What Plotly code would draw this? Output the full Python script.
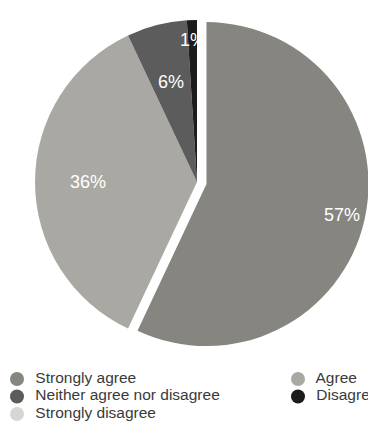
import math
import plotly.graph_objects as go

categories = ["Strongly agree", "Agree", "Neither agree nor disagree", "Disagree", "Strongly disagree"]
values = [57, 36, 6, 1, 0]
colors = ["#868580", "#aaa8a2", "#5c5c5c", "#1c1c1c", "#d8d6d0"]
pulls = [0.06, 0, 0, 0, 0]
label_r = [0.86, 0.67, 0.64, 0.88, 0.8]   # radial position of each % label (fraction of radius)

# the page body has an 8px margin, so the figure is drawn 8px smaller and shifted
OFF = 8
W, H = 376 - OFF, 421 - OFF
# pie geometry in window pixels
cx, cy, R = 197 - OFF, 182 - OFF, 162
maxpull = max(pulls)
half = R * (1 + maxpull)

fig = go.Figure()
fig.add_trace(go.Pie(
    labels=categories,
    values=values,
    sort=False,
    direction="clockwise",
    rotation=0,
    pull=pulls,
    marker=dict(colors=colors, line=dict(width=0)),
    textinfo="none",
    hoverinfo="label+percent",
    showlegend=False,
    domain=dict(x=[(cx - half) / W, (cx + half) / W],
                y=[1 - (cy + half) / H, 1 - (cy - half) / H]),
))

# percentage labels placed along each slice's mid-angle
total = sum(values)
cum = 0
for v, p, lr in zip(values, pulls, label_r):
    mid = (cum + v / 2) / total * 2 * math.pi
    cum += v
    if v == 0:
        continue
    sx, sy = math.sin(mid), -math.cos(mid)
    px = cx + sx * R * (lr + p)
    py = cy + sy * R * (lr + p)
    fig.add_annotation(
        x=px / W, y=1 - py / H, xref="paper", yref="paper",
        text=f"{round(v / total * 100)}%", showarrow=False,
        xanchor="center", yanchor="middle",
        font=dict(family="Liberation Sans, Arial, sans-serif", size=18, color="white"),
    )

# legend drawn as a scatter: two columns, row-wise order
cols = [i % 2 for i in range(len(categories))]
rows = [i // 2 for i in range(len(categories))]
fig.add_trace(go.Scatter(
    x=cols, y=rows,
    mode="markers+text",
    marker=dict(symbol="circle", size=14, color=colors),
    text=["  " + c for c in categories],
    textposition="middle right",
    textfont=dict(family="Liberation Sans, Arial, sans-serif", size=15.5, color="#3a3a3a"),
    hoverinfo="skip",
    showlegend=False,
    cliponaxis=False,
))

# col 0 -> x=17px, col 1 -> x=298px; row 0 -> y=379px, row step 17.5px (window pixels)
x0, dx = 17 - OFF, 281
y0, dy = 379 - OFF, 17.5
fig.update_xaxes(visible=False, range=[(0 - x0) / dx, (W - x0) / dx], domain=[0, 1], fixedrange=True)
fig.update_yaxes(visible=False, range=[(H - y0) / dy, (0 - y0) / dy], domain=[0, 1], fixedrange=True)

fig.update_layout(
    width=W, height=H,
    margin=dict(l=0, r=0, t=0, b=0),
    paper_bgcolor="white",
    plot_bgcolor="rgba(0,0,0,0)",
    showlegend=False,
)

fig.write_html("out.html", config={"displayModeBar": False})
